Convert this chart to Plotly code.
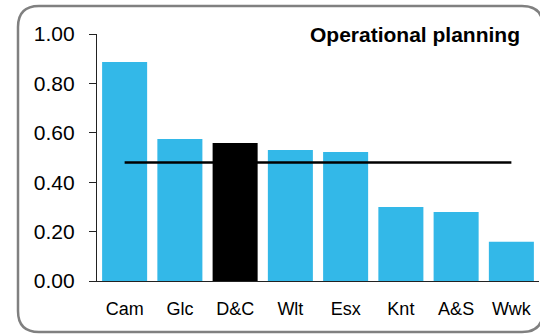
import plotly.graph_objects as go

categories = ["Cam", "Glc", "D&C", "Wlt", "Esx", "Knt", "A&S", "Wwk"]
values = [0.887, 0.575, 0.559, 0.530, 0.522, 0.300, 0.279, 0.159]
average = [0.48, 0.48, 0.48, 0.48, 0.48, 0.48, 0.48, 0.48]
highlight = "D&C"
y_ticks = [0.0, 0.2, 0.4, 0.6, 0.8, 1.0]
y_tick_labels = ["0.00", "0.20", "0.40", "0.60", "0.80", "1.00"]
title_text = "Operational planning"

BLUE = "#33B8E8"
colors = ["#000000" if c == highlight else BLUE for c in categories]

W, H = 540, 334
L, R, T, B = 97, 1, 34, 53
pw, ph = W - L - R, H - T - B


def px(x):
    return (x - L) / pw


def py(y):
    return (H - B - y) / ph


fig = go.Figure()
fig.add_trace(go.Bar(x=categories, y=values, marker=dict(color=colors, line=dict(width=0)),
                     showlegend=False, hoverinfo="x+y"))
fig.add_trace(go.Scatter(x=categories, y=average, mode="lines",
                         line=dict(color="#000000", width=2.5), showlegend=False))

# rounded border
x0, x1, y0, y1, r = 18, 543, 6, 332, 21
path = (f"M {px(x0 + r)},{py(y0)} L {px(x1 - r)},{py(y0)} "
        f"Q {px(x1)},{py(y0)} {px(x1)},{py(y0 + r)} "
        f"L {px(x1)},{py(y1 - r)} Q {px(x1)},{py(y1)} {px(x1 - r)},{py(y1)} "
        f"L {px(x0 + r)},{py(y1)} Q {px(x0)},{py(y1)} {px(x0)},{py(y1 - r)} "
        f"L {px(x0)},{py(y0 + r)} Q {px(x0)},{py(y0)} {px(x0 + r)},{py(y0)} Z")
fig.add_shape(type="path", path=path, xref="paper", yref="paper",
              line=dict(color="#808080", width=2.5), layer="below")

fig.add_annotation(text=f"<b>{title_text}</b>", xref="paper", yref="paper",
                   x=px(522), y=py(34), xanchor="right", yanchor="middle",
                   showarrow=False, font=dict(size=21, color="#000000"))

fig.update_layout(
    width=W, height=H,
    margin=dict(l=L, r=R, t=T, b=B, pad=0),
    paper_bgcolor="white", plot_bgcolor="white",
    bargap=0.185,
    font=dict(family="Liberation Sans, Arial, sans-serif", color="#000000"),
    xaxis=dict(showgrid=False, showline=True, linecolor="#222222", linewidth=1.2,
               ticks="", tickfont=dict(size=18), ticklabelstandoff=11, zeroline=False),
    yaxis=dict(range=[0, 1], tickvals=y_ticks, ticktext=y_tick_labels,
               showgrid=False, showline=True, linecolor="#222222", linewidth=1.2,
               ticks="outside", ticklen=7, tickcolor="#222222", tickwidth=1.2,
               tickfont=dict(size=21), ticklabelstandoff=10, zeroline=False),
)

fig.write_html("out.html", config={"displayModeBar": False},
               post_script="document.body.style.margin='0';document.body.style.overflow='hidden';")
